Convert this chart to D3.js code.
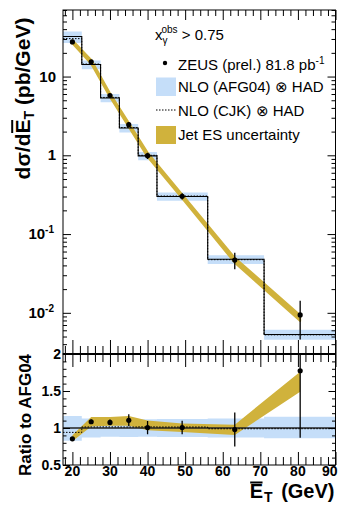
<!DOCTYPE html>
<html>
<head>
<meta charset="utf-8">
<script src="https://cdn.jsdelivr.net/npm/d3@7/dist/d3.min.js"></script>
<style>
  html, body { margin: 0; padding: 0; background: #fff; }
  svg { display: block; }
  text { font-family: "Liberation Sans", Arial, Helvetica, sans-serif; fill: #000; }
</style>
</head>
<body>
<script>
// ---------------- DATA ----------------
const binEdges = [17.5, 22.5, 27.5, 32.5, 37.5, 42.5, 56, 71, 90];
const etMean   = [20, 25, 30, 35, 40, 49.2, 63.2, 80.6];
const zeus     = [27.5, 15.4, 5.75, 2.45, 0.99, 0.302, 0.0468, 0.0094];
const zeusErr  = [0.6, 0.45, 0.21, 0.18, 0.089, 0.027, 0.011, 0.0048];
const afg04    = [32.2, 14.2, 5.35, 2.22, 0.985, 0.300, 0.0478, 0.0053];
const afg04Lo  = [26.7, 12.4, 4.71, 1.95, 0.867, 0.264, 0.0416, 0.00456];
const afg04Hi  = [37.4, 16.0, 5.99, 2.49, 1.103, 0.336, 0.0540, 0.0061];
const cjk      = [30.3, 14.4, 5.43, 2.25, 1.0, 0.304, 0.0473, 0.00525];
const esLo     = [26.4, 14.5, 5.51, 2.29, 0.955, 0.2835, 0.0433, 0.0079];
const esHi     = [29.0, 16.3, 6.15, 2.58, 1.084, 0.318, 0.04995, 0.00933];

const xMajorTicks = [20, 30, 40, 50, 60, 70, 80, 90];
const xTickLabels = ["20", "30", "40", "50", "60", "70", "80", "90"];
const xMinorTicks = [18, 22, 24, 26, 28, 32, 34, 36, 38, 42, 44, 46, 48, 52, 54, 56, 58,
                     62, 64, 66, 68, 72, 74, 76, 78, 82, 84, 86, 88];
const yMainMajor = [0.01, 0.1, 1, 10];
const yMainLabels = [["10", "-2"], ["10", "-1"], ["1", ""], ["10", ""]];
const yMainMinor = [0.003,0.004,0.005,0.006,0.007,0.008,0.009,
                    0.02,0.03,0.04,0.05,0.06,0.07,0.08,0.09,
                    0.2,0.3,0.4,0.5,0.6,0.7,0.8,0.9,
                    2,3,4,5,6,7,8,9,20,30,40,50,60,70];
const yRatioMajor = [0.5, 1, 1.5, 2];
const yRatioLabels = ["0.5", "1", "1.5", "2"];
const yRatioMinor = [0.6,0.7,0.8,0.9,1.1,1.2,1.3,1.4,1.6,1.7,1.8,1.9];

// ---------------- STYLE ----------------
const W = 345, H = 519;
const L = 63, R = 335.5, T = 10, MID = 354, B = 465;
const BLUE = "#c5def9", GOLD = "#d0b23c";

const svg = d3.select("body").append("svg").attr("width", W).attr("height", H);

const x = d3.scaleLinear().domain([17.5, 90]).range([L, R]);
const yM = d3.scaleLog().domain([0.003, 70]).range([MID, T]);
const yR = d3.scaleLinear().domain([0.5, 2]).range([B, MID]);

const defs = svg.append("defs");
defs.append("clipPath").attr("id", "cm").append("rect")
  .attr("x", L).attr("y", T).attr("width", R - L).attr("height", MID - T);
defs.append("clipPath").attr("id", "cr").append("rect")
  .attr("x", L).attr("y", MID).attr("width", R - L).attr("height", B - MID);

const idx = d3.range(etMean.length);
const stepPts = arr => idx.map(i => [binEdges[i], arr[i]]).concat([[binEdges[binEdges.length - 1], arr[arr.length - 1]]]);

// ---------- MAIN PANEL ----------
const gm = svg.append("g").attr("clip-path", "url(#cm)");
gm.append("path")
  .datum(idx.map(i => [binEdges[i], afg04Lo[i], afg04Hi[i]]).concat([[binEdges[8], afg04Lo[7], afg04Hi[7]]]))
  .attr("fill", BLUE)
  .attr("d", d3.area().curve(d3.curveStepAfter).x(d => x(d[0])).y0(d => yM(d[1])).y1(d => yM(d[2])));
gm.append("path")
  .datum(idx)
  .attr("fill", GOLD).attr("stroke", GOLD).attr("stroke-width", 2).attr("stroke-linejoin", "round")
  .attr("d", d3.area().x(i => x(etMean[i])).y0(i => yM(esLo[i])).y1(i => yM(esHi[i])));
gm.append("path").datum(stepPts(afg04))
  .attr("fill", "none").attr("stroke", "#000").attr("stroke-width", 1.1)
  .attr("d", d3.line().curve(d3.curveStepAfter).x(d => x(d[0])).y(d => yM(d[1])));
gm.append("path").datum(stepPts(cjk))
  .attr("fill", "none").attr("stroke", "#000").attr("stroke-width", 1).attr("stroke-dasharray", "1.5,1.5")
  .attr("d", d3.line().curve(d3.curveStepAfter).x(d => x(d[0])).y(d => yM(d[1])));
gm.selectAll("line.err").data(idx).join("line").attr("class", "err")
  .attr("x1", i => x(etMean[i])).attr("x2", i => x(etMean[i]))
  .attr("y1", i => yM(zeus[i] + zeusErr[i])).attr("y2", i => yM(zeus[i] - zeusErr[i]))
  .attr("stroke", "#000").attr("stroke-width", 1.3);
gm.selectAll("circle.pt").data(idx).join("circle").attr("class", "pt")
  .attr("cx", i => x(etMean[i])).attr("cy", i => yM(zeus[i])).attr("r", 2.6).attr("fill", "#000");

// ---------- RATIO PANEL ----------
const gr = svg.append("g").attr("clip-path", "url(#cr)");
gr.append("path")
  .datum(idx.map(i => [binEdges[i], afg04Lo[i] / afg04[i], afg04Hi[i] / afg04[i]]).concat([[binEdges[8], afg04Lo[7] / afg04[7], afg04Hi[7] / afg04[7]]]))
  .attr("fill", BLUE)
  .attr("d", d3.area().curve(d3.curveStepAfter).x(d => x(d[0])).y0(d => yR(d[1])).y1(d => yR(d[2])));
gr.append("path").datum(idx)
  .attr("fill", GOLD)
  .attr("d", d3.area().x(i => x(etMean[i])).y0(i => yR(esLo[i] / afg04[i])).y1(i => yR(esHi[i] / afg04[i])));
gr.append("path").datum(stepPts(afg04.map((v, i) => v / afg04[i])))
  .attr("fill", "none").attr("stroke", "#222").attr("stroke-width", 1.6)
  .attr("d", d3.line().curve(d3.curveStepAfter).x(d => x(d[0])).y(d => yR(d[1])));
gr.append("path").datum(stepPts(cjk.map((v, i) => v / afg04[i])))
  .attr("fill", "none").attr("stroke", "#000").attr("stroke-width", 1).attr("stroke-dasharray", "1.5,1.5")
  .attr("d", d3.line().curve(d3.curveStepAfter).x(d => x(d[0])).y(d => yR(d[1])));
gr.selectAll("line.err").data(idx).join("line").attr("class", "err")
  .attr("x1", i => x(etMean[i])).attr("x2", i => x(etMean[i]))
  .attr("y1", i => yR((zeus[i] + zeusErr[i]) / afg04[i])).attr("y2", i => yR((zeus[i] - zeusErr[i]) / afg04[i]))
  .attr("stroke", "#000").attr("stroke-width", 1.3);
gr.selectAll("circle.pt").data(idx).join("circle").attr("class", "pt")
  .attr("cx", i => x(etMean[i])).attr("cy", i => yR(zeus[i] / afg04[i])).attr("r", 2.6).attr("fill", "#000");

// ---------- AXES / TICKS ----------
function addAxis(axis, tx, ty) {
  const g = svg.append("g").attr("transform", `translate(${tx},${ty})`).call(axis);
  g.select(".domain").remove();
  g.selectAll(".tick line").attr("stroke", "#000").attr("stroke-width", 1);
  g.selectAll(".tick text").remove();
  return g;
}
addAxis(d3.axisBottom(x).tickValues(xMajorTicks).tickSize(10), 0, T);
addAxis(d3.axisBottom(x).tickValues(xMinorTicks).tickSize(6), 0, T);
addAxis(d3.axisTop(x).tickValues(xMajorTicks).tickSize(14), 0, MID);
addAxis(d3.axisTop(x).tickValues(xMinorTicks).tickSize(8), 0, MID);
addAxis(d3.axisBottom(x).tickValues(xMajorTicks).tickSize(13), 0, MID);
addAxis(d3.axisBottom(x).tickValues(xMinorTicks).tickSize(8), 0, MID);
addAxis(d3.axisTop(x).tickValues(xMajorTicks).tickSize(13), 0, B);
addAxis(d3.axisTop(x).tickValues(xMinorTicks).tickSize(8), 0, B);
addAxis(d3.axisRight(yM).tickValues(yMainMajor).tickSize(8), L, 0);
addAxis(d3.axisRight(yM).tickValues(yMainMinor).tickSize(4), L, 0);
addAxis(d3.axisLeft(yM).tickValues(yMainMajor).tickSize(8), R, 0);
addAxis(d3.axisLeft(yM).tickValues(yMainMinor).tickSize(4), R, 0);
addAxis(d3.axisRight(yR).tickValues(yRatioMajor).tickSize(7), L, 0);
addAxis(d3.axisRight(yR).tickValues(yRatioMinor).tickSize(3.5), L, 0);
addAxis(d3.axisLeft(yR).tickValues(yRatioMajor).tickSize(7), R, 0);
addAxis(d3.axisLeft(yR).tickValues(yRatioMinor).tickSize(3.5), R, 0);

svg.append("rect").attr("x", L).attr("y", T).attr("width", R - L).attr("height", MID - T)
  .attr("fill", "none").attr("stroke", "#000").attr("stroke-width", 1);
svg.append("rect").attr("x", L).attr("y", MID).attr("width", R - L).attr("height", B - MID)
  .attr("fill", "none").attr("stroke", "#000").attr("stroke-width", 1);
svg.append("line").attr("x1", L).attr("x2", R).attr("y1", MID).attr("y2", MID)
  .attr("stroke", "#000").attr("stroke-width", 2);

// ---------- LABELS ----------
svg.selectAll("text.xl").data(xMajorTicks).join("text").attr("class", "xl")
  .attr("x", (d, i) => i === xMajorTicks.length - 1 ? x(d) + 2 : x(d))
  .attr("y", 476)
  .attr("text-anchor", (d, i) => i === xMajorTicks.length - 1 ? "end" : "middle")
  .style("font-weight", "bold").style("font-size", "14px")
  .text((d, i) => xTickLabels[i]);
yMainMajor.forEach((v, i) => {
  const t = svg.append("text").attr("x", yMainLabels[i][1] ? 54 : 56).attr("y", yM(v) + 5)
    .attr("text-anchor", "end").style("font-weight", "bold").style("font-size", "15px");
  t.append("tspan").text(yMainLabels[i][0]);
  if (yMainLabels[i][1]) t.append("tspan").attr("dy", -6).style("font-size", "10px").text(yMainLabels[i][1]);
});
yRatioMajor.forEach((v, i) => {
  svg.append("text").attr("x", 61).attr("y", yR(v) + 5).attr("text-anchor", "end")
    .style("font-weight", "bold").style("font-size", "14px").text(yRatioLabels[i]);
});

// overline helper: draws a bar over character k of a text element, inside its parent group
function overline(textSel, k, dyOff) {
  const node = textSel.node();
  const ext = node.getExtentOfChar(k);
  d3.select(node.parentNode).append("line")
    .attr("x1", ext.x + 0.5).attr("x2", ext.x + ext.width - 0.5)
    .attr("y1", ext.y + dyOff).attr("y2", ext.y + dyOff)
    .attr("stroke", "#000").attr("stroke-width", 2);
}

// main y title
{
  const g = svg.append("g").attr("transform", "translate(30,98.5) rotate(-90)");
  const t = g.append("text").attr("text-anchor", "middle").style("font-weight", "bold").style("font-size", "21px");
  t.append("tspan").text("dσ/d");
  t.append("tspan").text("E");
  t.append("tspan").attr("dy", 4).style("font-size", "14px").text("T");
  t.append("tspan").attr("dy", -4).text(" (pb/GeV)");
  overline(t, 4, 1.2);
}
// ratio y title
svg.append("text").attr("transform", "translate(31,415) rotate(-90)")
  .attr("text-anchor", "middle").style("font-weight", "bold").style("font-size", "17px")
  .text("Ratio to AFG04");
// x title
{
  const g = svg.append("g");
  const t = g.append("text").attr("x", R - 1).attr("y", 498).attr("text-anchor", "end")
    .style("font-weight", "bold").style("font-size", "20px");
  t.append("tspan").text("E");
  t.append("tspan").attr("dx", 1).attr("dy", 4).style("font-size", "14px").text("T");
  t.append("tspan").attr("dx", 3).attr("dy", -4).text(" (GeV)");
  overline(t, 0, 2.5);
}

// ---------- LEGEND ----------
{
  const t = svg.append("text").attr("x", 155).attr("y", 40).style("font-size", "15px");
  t.append("tspan").text("x");
  t.append("tspan").attr("dy", 4).style("font-size", "10px").text("γ");
  t.append("tspan").attr("dx", -6).attr("dy", -11).style("font-size", "10px").text("obs");
  t.append("tspan").attr("dy", 7).text(" > 0.75");
}
svg.append("circle").attr("cx", 165).attr("cy", 63).attr("r", 2.2).attr("fill", "#000");
{
  const t = svg.append("text").attr("x", 178).attr("y", 70).style("font-size", "15px");
  t.append("tspan").text("ZEUS (prel.) 81.8 pb");
  t.append("tspan").attr("dy", -6).style("font-size", "10px").text("-1");
}
svg.append("rect").attr("x", 156).attr("y", 77.5).attr("width", 20).attr("height", 18.5).attr("fill", BLUE);
svg.append("text").attr("x", 178).attr("y", 92).style("font-size", "15px").text("NLO (AFG04) ⊗ HAD");
svg.append("line").attr("x1", 156).attr("x2", 177).attr("y1", 110).attr("y2", 110)
  .attr("stroke", "#000").attr("stroke-width", 1).attr("stroke-dasharray", "1.5,1.5");
svg.append("text").attr("x", 178).attr("y", 116).style("font-size", "15px").text("NLO (CJK) ⊗ HAD");
svg.append("rect").attr("x", 156).attr("y", 126).attr("width", 20).attr("height", 18).attr("fill", GOLD);
svg.append("text").attr("x", 178).attr("y", 140).style("font-size", "15px").text("Jet ES uncertainty");
</script>
</body>
</html>
